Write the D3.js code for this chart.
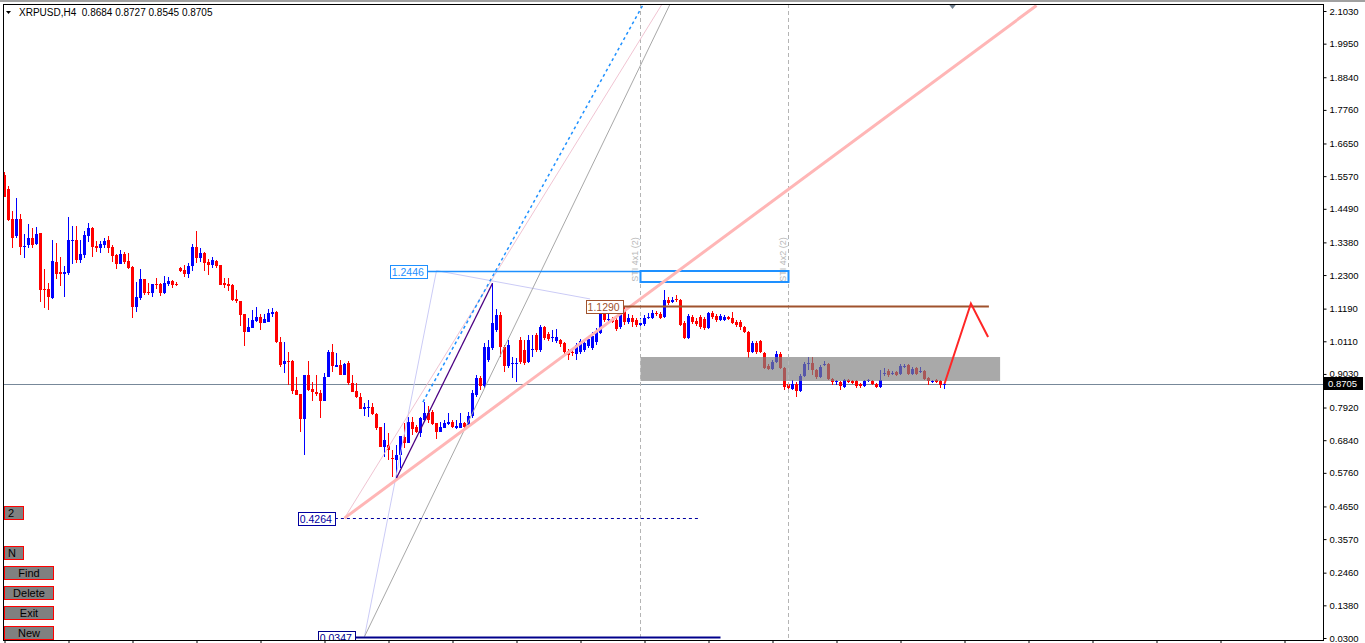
<!DOCTYPE html>
<html>
<head>
<meta charset="utf-8">
<script src="https://cdn.jsdelivr.net/npm/d3@7"></script>
<style>
  html, body { margin: 0; padding: 0; background: #fff; overflow: hidden; }
  svg { display: block; font-family: "Liberation Sans", Arial, sans-serif; }
</style>
</head>
<body>
<div id="chart"></div>
<script>
// XRPUSD H4 candles with the drawing objects laid over them (MT4 style).
const SYMBOL = 'XRPUSD,H4';

// [open, high, low, close], one row per H4 bar, oldest first
const OHLC = [
  [1.561,1.571,1.488,1.488],[1.514,1.524,1.409,1.412],[1.415,1.442,1.319,1.352],[1.359,1.485,1.352,1.415],
  [1.415,1.432,1.296,1.323],[1.323,1.366,1.286,1.326],[1.329,1.399,1.319,1.352],[1.352,1.385,1.319,1.329],
  [1.333,1.389,1.329,1.366],[1.369,1.369,1.141,1.180],[1.184,1.250,1.121,1.180],[1.184,1.203,1.114,1.157],
  [1.154,1.346,1.151,1.276],[1.273,1.336,1.217,1.233],[1.240,1.290,1.194,1.233],[1.233,1.260,1.157,1.240],
  [1.237,1.422,1.230,1.346],[1.343,1.392,1.266,1.346],[1.346,1.392,1.270,1.280],[1.280,1.346,1.270,1.299],
  [1.296,1.376,1.286,1.362],[1.359,1.402,1.339,1.385],[1.385,1.389,1.290,1.323],[1.326,1.343,1.306,1.319],
  [1.319,1.343,1.303,1.333],[1.329,1.352,1.319,1.343],[1.346,1.359,1.303,1.319],[1.323,1.329,1.273,1.293],
  [1.296,1.299,1.250,1.266],[1.266,1.313,1.266,1.299],[1.299,1.306,1.266,1.273],[1.276,1.303,1.250,1.253],
  [1.256,1.260,1.088,1.124],[1.124,1.207,1.108,1.157],[1.154,1.250,1.147,1.217],[1.217,1.217,1.164,1.171],
  [1.174,1.203,1.164,1.171],[1.171,1.200,1.157,1.200],[1.200,1.220,1.184,1.197],[1.200,1.203,1.161,1.171],
  [1.171,1.227,1.167,1.203],[1.200,1.223,1.194,1.210],[1.210,1.214,1.187,1.197],[1.200,1.207,1.194,1.197],
  [1.253,1.256,1.240,1.243],[1.247,1.263,1.223,1.233],[1.233,1.270,1.220,1.260],[1.260,1.333,1.243,1.323],
  [1.323,1.376,1.270,1.286],[1.286,1.319,1.273,1.303],[1.303,1.306,1.243,1.270],[1.273,1.283,1.230,1.263],
  [1.263,1.290,1.253,1.280],[1.276,1.280,1.253,1.260],[1.263,1.263,1.197,1.197],[1.203,1.220,1.187,1.197],
  [1.200,1.220,1.177,1.194],[1.197,1.200,1.144,1.147],[1.151,1.180,1.137,1.144],[1.144,1.144,1.061,1.098],
  [1.101,1.101,0.995,1.042],[1.042,1.088,1.042,1.058],[1.055,1.114,1.055,1.081],[1.078,1.124,1.075,1.091],
  [1.091,1.101,1.048,1.071],[1.071,1.101,1.071,1.085],[1.075,1.118,1.075,1.104],[1.101,1.121,1.091,1.108],
  [1.108,1.111,1.005,1.008],[1.008,1.025,0.926,0.932],[0.936,1.008,0.906,0.946],[0.946,0.975,0.866,0.942],
  [0.946,0.949,0.836,0.846],[0.850,0.893,0.833,0.833],[0.836,0.836,0.711,0.754],[0.754,0.899,0.635,0.899],
  [0.899,0.946,0.846,0.850],[0.853,0.876,0.813,0.843],[0.843,0.899,0.830,0.836],[0.840,0.850,0.757,0.813],
  [0.813,0.906,0.813,0.893],[0.893,0.982,0.893,0.975],[0.975,1.002,0.909,0.929],[0.926,0.972,0.926,0.932],
  [0.932,0.949,0.899,0.899],[0.899,0.939,0.899,0.936],[0.939,0.946,0.866,0.873],[0.873,0.899,0.843,0.843],
  [0.846,0.873,0.823,0.826],[0.826,0.840,0.787,0.787],[0.787,0.807,0.764,0.793],[0.790,0.816,0.760,0.793],
  [0.793,0.807,0.767,0.770],[0.770,0.773,0.717,0.724],[0.727,0.727,0.661,0.661],[0.661,0.740,0.628,0.684],
  [0.668,0.707,0.618,0.651],[0.625,0.651,0.562,0.621],[0.618,0.668,0.559,0.635],[0.635,0.697,0.592,0.697],
  [0.694,0.740,0.658,0.674],[0.674,0.760,0.674,0.744],[0.744,0.760,0.701,0.721],[0.727,0.734,0.707,0.711],
  [0.707,0.760,0.694,0.757],[0.750,0.810,0.744,0.773],[0.773,0.797,0.740,0.750],[0.777,0.783,0.734,0.737],
  [0.740,0.740,0.687,0.711],[0.711,0.744,0.711,0.727],[0.724,0.750,0.724,0.740],[0.737,0.773,0.734,0.744],
  [0.744,0.750,0.724,0.727],[0.724,0.750,0.721,0.730],[0.724,0.773,0.724,0.740],[0.740,0.744,0.724,0.727],
  [0.734,0.777,0.730,0.764],[0.764,0.850,0.757,0.840],[0.833,0.899,0.826,0.889],[0.889,0.896,0.850,0.863],
  [0.863,1.005,0.856,0.992],[0.949,1.015,0.942,0.992],[0.989,1.203,0.982,1.071],[1.048,1.118,1.042,1.098],
  [1.098,1.108,0.959,0.992],[0.992,0.998,0.909,0.929],[0.929,1.015,0.922,0.998],[0.936,0.959,0.889,0.939],
  [0.936,0.955,0.876,0.939],[1.015,1.025,0.936,0.942],[0.982,1.015,0.932,0.939],[0.942,1.032,0.939,1.015],
  [0.982,1.032,0.959,0.985],[1.032,1.038,0.975,0.982],[0.982,1.065,0.975,1.058],[1.058,1.061,1.015,1.022],
  [1.035,1.042,1.012,1.018],[1.022,1.048,1.008,1.025],[1.012,1.051,1.005,1.025],[1.015,1.018,0.992,1.002],
  [1.005,1.008,0.969,0.975],[0.979,0.985,0.949,0.965],[0.975,0.982,0.962,0.972],[0.969,1.005,0.949,0.998],
  [0.975,1.018,0.969,1.012],[0.982,1.015,0.975,1.005],[0.995,1.028,0.989,1.018],[0.989,1.042,0.982,1.028],
  [1.008,1.055,0.998,1.042],[1.038,1.121,1.035,1.111],[1.111,1.121,1.075,1.081],[1.081,1.111,1.075,1.085],
  [1.085,1.091,1.071,1.075],[1.081,1.088,1.045,1.051],[1.058,1.114,1.051,1.108],[1.114,1.124,1.065,1.075],
  [1.075,1.101,1.068,1.088],[1.088,1.098,1.058,1.075],[1.081,1.088,1.058,1.065],[1.065,1.088,1.048,1.071],
  [1.068,1.098,1.061,1.088],[1.088,1.104,1.085,1.091],[1.088,1.114,1.085,1.104],[1.104,1.111,1.095,1.101],
  [1.101,1.108,1.085,1.088],[1.091,1.180,1.088,1.147],[1.147,1.157,1.131,1.137],[1.141,1.157,1.137,1.147],
  [1.151,1.164,1.141,1.147],[1.147,1.151,1.061,1.065],[1.071,1.078,1.018,1.022],[1.022,1.101,1.018,1.095],
  [1.091,1.098,1.068,1.075],[1.078,1.088,1.061,1.068],[1.091,1.098,1.051,1.058],[1.085,1.091,1.048,1.055],
  [1.055,1.108,1.051,1.104],[1.104,1.111,1.085,1.091],[1.095,1.101,1.075,1.081],[1.081,1.101,1.078,1.095],
  [1.081,1.098,1.078,1.091],[1.091,1.095,1.081,1.085],[1.088,1.108,1.068,1.071],[1.075,1.081,1.058,1.065],
  [1.075,1.081,1.048,1.058],[1.058,1.061,1.038,1.042],[1.042,1.045,0.955,0.975],[0.975,1.012,0.972,1.005],
  [1.005,1.012,0.969,0.975],[1.012,1.015,0.972,0.975],[0.972,0.975,0.919,0.922],[0.929,0.936,0.916,0.919],
  [0.919,0.949,0.916,0.942],[0.942,0.979,0.939,0.969],[0.969,0.975,0.919,0.922],[0.922,0.926,0.850,0.859],
  [0.869,0.876,0.850,0.856],[0.853,0.883,0.850,0.869],[0.869,0.876,0.826,0.846],[0.846,0.902,0.843,0.896],
  [0.896,0.942,0.893,0.936],[0.936,0.959,0.916,0.939],[0.939,0.959,0.899,0.916],[0.916,0.919,0.886,0.893],
  [0.893,0.932,0.889,0.926],[0.932,0.946,0.929,0.936],[0.936,0.939,0.883,0.886],[0.886,0.889,0.866,0.876],
  [0.876,0.883,0.866,0.879],[0.876,0.879,0.850,0.863],[0.859,0.886,0.856,0.883],[0.883,0.886,0.873,0.876],
  [0.879,0.883,0.869,0.873],[0.879,0.883,0.856,0.863],[0.869,0.873,0.856,0.863],[0.863,0.883,0.859,0.879],
  [0.879,0.886,0.876,0.883],[0.879,0.883,0.866,0.869],[0.869,0.873,0.856,0.859],[0.859,0.916,0.856,0.883],
  [0.902,0.922,0.896,0.906],[0.912,0.919,0.893,0.899],[0.902,0.912,0.899,0.906],[0.909,0.912,0.896,0.899],
  [0.902,0.936,0.899,0.929],[0.926,0.936,0.922,0.929],[0.932,0.936,0.899,0.902],[0.902,0.926,0.899,0.919],
  [0.922,0.926,0.899,0.902],[0.909,0.926,0.906,0.912],[0.912,0.916,0.883,0.886],[0.889,0.893,0.866,0.879],
  [0.876,0.883,0.873,0.879],[0.883,0.886,0.873,0.876],[0.879,0.883,0.856,0.866],[0.8684,0.8727,0.8545,0.8705]
];

const PRICE_TICKS = [2.1030, 1.9950, 1.8840, 1.7760, 1.6650, 1.5570, 1.4490, 1.3380, 1.2300, 1.1190,
  1.0110, 0.9030, 0.7920, 0.6840, 0.5760, 0.4650, 0.3570, 0.2460, 0.1380, 0.0300];
const TIME_TICK_BARS = d3.range(0, 336, 16);   // one time tick every 16 bars

// horizontal price levels: [price, first bar, last bar]
const LEVEL_HIGH = [1.2446, 105.6, 159];
const LEVEL_MID = [1.1290, 154.55, 246.1];
const LEVEL_LOW = [0.4264, 82.6, 173.9];
const LEVEL_BASE = [0.0347, 87.6, 179];

// vertical markers (bar index) and their captions
const MARKER_BARS = [159, 196];
const MARKER_TEXT = ['STI 4x1 (2)', 'STI 4x2 (2)'];

// rectangles: [first bar, last bar, top price, bottom price]
const TARGET_BOX = [159, 196, 1.2446, 1.208];
const RANGE_ZONE = [159, 248.9, 0.959, 0.880];

// trend lines as [bar, price] anchor points
const TREND_WIDE = [[85, 0.4264], [258, 2.121]];
const TREND_THIN = [[85, 0.4264], [164.4, 2.126]];
const TREND_GRAY = [[90, 0.0347], [166.4, 2.126]];
const TREND_FAN = [[90, 0.0347], [108, 1.2446], [146.4, 1.151]];
const TREND_LEG = [[98, 0.559], [122, 1.203]];
const TREND_DOTTED = [[104.6, 0.810], [159.6, 2.123]];
const FORECAST = [[235, 0.8705], [241.6, 1.136], [245.9, 1.025]];
const SHIFT_BAR = 237;

const BUTTONS = ['2', 'N', 'Find', 'Delete', 'Exit', 'New'];

const W = 1365, H = 643;
const PLOT = { left: 3, top: 4, right: 1323, bottom: 640 };
const BULL = '#0000ff', BEAR = '#ff0000';

const svg = d3.select('#chart').append('svg')
  .attr('width', W)
  .attr('height', H);

const x = d3.scaleLinear().domain([0, 235]).range([4.5, 944.5]);
const y = d3.scaleLinear().domain([0.03, 2.103]).range([638, 11]);
const px = v => Math.round(v) + 0.5;   // snap a 1px stroke to the pixel grid

svg.append('rect').attr('width', W).attr('height', 2).attr('fill', '#a0a0a0');

svg.append('defs').append('clipPath').attr('id', 'plot-clip')
  .append('rect')
  .attr('x', PLOT.left).attr('y', PLOT.top)
  .attr('width', PLOT.right - PLOT.left).attr('height', PLOT.bottom - PLOT.top);

const g = svg.append('g').attr('clip-path', 'url(#plot-clip)');

// current price line sits behind the candles
const last = OHLC[OHLC.length - 1];
g.append('line')
  .attr('x1', PLOT.left).attr('x2', PLOT.right)
  .attr('y1', px(y(last[3]))).attr('y2', px(y(last[3])))
  .attr('stroke', '#778899');

// candles
const bars = g.append('g').attr('shape-rendering', 'crispEdges');
bars.selectAll('.wick')
  .data(OHLC)
  .join('rect')
  .attr('class', 'wick')
  .attr('x', (d, i) => x(i) - 0.5)
  .attr('width', 1)
  .attr('y', d => Math.round(y(d[1])))
  .attr('height', d => Math.max(1, Math.round(y(d[2])) - Math.round(y(d[1]))))
  .attr('fill', d => d[3] >= d[0] ? BULL : BEAR);

bars.selectAll('.body')
  .data(OHLC)
  .join('rect')
  .attr('class', 'body')
  .attr('x', (d, i) => x(i) - 1.5)
  .attr('width', 3)
  .attr('y', d => Math.round(y(Math.max(d[0], d[3]))))
  .attr('height', d => Math.max(1, Math.round(y(Math.min(d[0], d[3]))) - Math.round(y(Math.max(d[0], d[3])))))
  .attr('fill', d => d[3] >= d[0] ? BULL : BEAR);

// grey consolidation zone, drawn over the bars
g.append('rect')
  .attr('x', x(RANGE_ZONE[0]))
  .attr('width', x(RANGE_ZONE[1]) - x(RANGE_ZONE[0]))
  .attr('y', Math.round(y(RANGE_ZONE[2])))
  .attr('height', Math.round(y(RANGE_ZONE[3]) - y(RANGE_ZONE[2])))
  .attr('fill', '#808080')
  .attr('fill-opacity', 0.68);

// vertical dashed markers
MARKER_BARS.forEach((b, i) => {
  g.append('line')
    .attr('x1', x(b)).attr('x2', x(b))
    .attr('y1', PLOT.top).attr('y2', PLOT.bottom)
    .attr('stroke', '#b4b4b4')
    .attr('stroke-dasharray', '4,3');
  g.append('text')
    .attr('transform', `translate(${x(b) - 3},${y(TARGET_BOX[3])}) rotate(-90)`)
    .style('font-size', '9px')
    .style('fill', '#b8b8b8')
    .text(MARKER_TEXT[i]);
});

// target box
g.append('rect')
  .attr('x', x(TARGET_BOX[0]))
  .attr('width', x(TARGET_BOX[1]) - x(TARGET_BOX[0]))
  .attr('y', Math.round(y(TARGET_BOX[2])))
  .attr('height', Math.round(y(TARGET_BOX[3]) - y(TARGET_BOX[2])))
  .attr('fill', 'none')
  .attr('stroke', '#1e90ff')
  .attr('stroke-width', 2);

const line = d3.line().x(d => x(d[0])).y(d => y(d[1]));

function trend(points, color, width, dash) {
  g.append('path')
    .datum(points)
    .attr('d', line)
    .attr('fill', 'none')
    .attr('stroke', color)
    .attr('stroke-width', width)
    .attr('stroke-dasharray', dash || null);
}

trend(TREND_FAN, '#cbcbf6', 1);
trend(TREND_GRAY, '#a8a8a8', 1);
trend(TREND_THIN, '#f0c4d2', 1);
trend(TREND_WIDE, '#ffb6b6', 3);
trend(TREND_DOTTED, '#1e90ff', 1.5, '3,3');
trend(TREND_LEG, '#4b0082', 1.3);

// price levels with boxed labels on their left end
function level(lv, color, width, dash) {
  const yy = Math.round(y(lv[0])) + 0.5;
  g.append('line')
    .attr('x1', x(lv[1])).attr('x2', x(lv[2]))
    .attr('y1', yy).attr('y2', yy)
    .attr('stroke', color)
    .attr('stroke-width', width)
    .attr('stroke-dasharray', dash || null);
  const t = g.append('text')
    .attr('y', yy + 4)
    .style('font-size', '10.5px')
    .style('fill', color)
    .text(d3.format('.4f')(lv[0]));
  const tw = t.node().getComputedTextLength();
  const right = x(lv[1]);
  t.attr('x', right - tw - 3);
  g.insert('rect', 'text:last-of-type')
    .attr('x', Math.round(right - tw - 5) + 0.5)
    .attr('y', Math.round(yy - 7) + 0.5)
    .attr('width', Math.round(tw + 5))
    .attr('height', 13)
    .attr('fill', '#fff')
    .attr('stroke', color);
  t.raise();
}

level(LEVEL_HIGH, '#1e90ff', 1.4);
level(LEVEL_MID, '#a0522d', 2.2);
level(LEVEL_LOW, '#0000a0', 1.2, '3,3');
level(LEVEL_BASE, '#00008b', 2.2);

// forecast path
g.append('path')
  .datum(FORECAST)
  .attr('d', line)
  .attr('fill', 'none')
  .attr('stroke', '#ff2626')
  .attr('stroke-width', 2);

// chart-shift marker
const sx = x(SHIFT_BAR);
g.append('path')
  .attr('d', `M${sx - 4},${PLOT.top} L${sx + 4},${PLOT.top} L${sx},${PLOT.top + 5} Z`)
  .attr('fill', '#708090');

// frame
svg.append('rect')
  .attr('x', PLOT.left + 0.5).attr('y', PLOT.top + 0.5)
  .attr('width', PLOT.right - PLOT.left).attr('height', PLOT.bottom - PLOT.top)
  .attr('fill', 'none')
  .attr('stroke', '#000');

// price axis
const yAxis = svg.append('g')
  .attr('transform', `translate(${PLOT.right + 0.5},0)`)
  .call(d3.axisRight(y).tickValues(PRICE_TICKS).tickFormat(d3.format('.4f')).tickSize(3).tickPadding(3));
yAxis.select('.domain').remove();
yAxis.selectAll('text').style('font-size', '9.5px').style('font-family', '"Liberation Sans", Arial, sans-serif').attr('fill', '#000');
yAxis.selectAll('line').attr('stroke', '#000');

// time axis ticks (labels fall below the visible window)
const xAxis = svg.append('g')
  .attr('transform', `translate(0,${PLOT.bottom + 0.5})`)
  .call(d3.axisBottom(x).tickValues(TIME_TICK_BARS.filter(b => x(b) < PLOT.right)).tickFormat('').tickSize(4));
xAxis.select('.domain').remove();
xAxis.selectAll('line').attr('stroke', '#000');

// last price tag
const lastY = y(last[3]);
svg.append('rect')
  .attr('x', PLOT.right + 1).attr('y', Math.round(lastY - 7))
  .attr('width', 39).attr('height', 13)
  .attr('fill', '#000');
svg.append('text')
  .attr('x', PLOT.right + 5).attr('y', Math.round(lastY - 7) + 10)
  .style('font-size', '9.5px')
  .style('fill', '#fff')
  .text(d3.format('.4f')(last[3]));

// header
svg.append('path').attr('d', 'M6,11 L11,11 L8.5,14 Z').attr('fill', '#000');
const fmt = d3.format('.4f');
svg.append('text')
  .attr('x', 19).attr('y', 16)
  .attr('xml:space', 'preserve')
  .style('white-space', 'pre')
  .style('font-size', '10px')
  .style('fill', '#000')
  .text(`${SYMBOL}  ${fmt(last[0])} ${fmt(last[1])} ${fmt(last[2])} ${fmt(last[3])}`);

// panel buttons at the bottom left
const BTN_TOP = [506, 546, 566, 586, 606, 626];
const btn = svg.append('g');
BUTTONS.forEach((label, i) => {
  const w = label.length === 1 ? 19 : 49;
  btn.append('rect')
    .attr('x', 4.5).attr('y', BTN_TOP[i] + 0.5)
    .attr('width', w).attr('height', 13)
    .attr('fill', '#808080')
    .attr('stroke', '#ff0000');
  btn.append('text')
    .attr('x', label.length === 1 ? 8 : 4.5 + w / 2)
    .attr('y', BTN_TOP[i] + 11)
    .attr('text-anchor', label.length === 1 ? 'start' : 'middle')
    .style('font-size', '11px')
    .style('fill', '#000')
    .text(label);
});
</script>
</body>
</html>
